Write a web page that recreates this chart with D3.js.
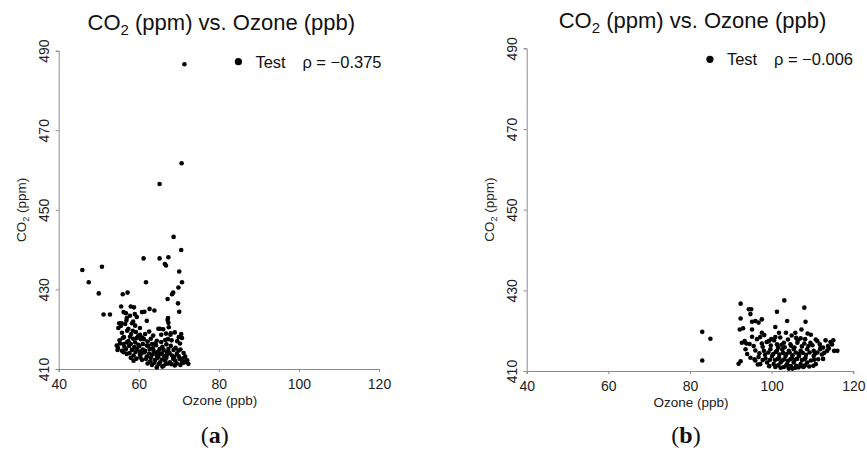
<!DOCTYPE html>
<html>
<head>
<meta charset="utf-8">
<script src="https://cdn.jsdelivr.net/npm/d3@7"></script>
<style>
  body { margin: 0; background: #fff; }
  svg { display: block; font-family: "Liberation Sans", Arial, sans-serif; }
</style>
</head>
<body>
<div id="chart"></div>
<script>
(function () {

// Data: panel (a)
const ozoneA = [71.4, 70.7, 65.2, 68.7, 70.6, 61.2, 65.2, 67.4, 66.8, 66.5, 45.9, 50.8, 70.1, 47.5, 61.8, 70.8, 69.9, 50, 56, 57.2,
  68.6, 68.3, 67.2, 69.8, 70.1, 51.2, 52.8, 55.6, 58, 58.8, 62.7, 63.9, 56.2, 56.8, 59, 60.8, 61.4, 57, 59.5, 67.2,
  55.1, 55.7, 56.6, 58.3, 59.1, 62, 67.4, 54.9, 57.4, 58.5, 64.9, 65.3, 62.6, 67.5, 68, 70.8, 56.3, 57.8, 59.5, 60.5,
  61.3, 64.5, 66.6, 67.3, 54.5, 55.3, 56.2, 57, 58, 59.1, 59.9, 61, 62, 63.3, 64.1, 70.3, 54.7, 55.8, 56.8, 58.3,
  59.5, 60.3, 61.6, 62.7, 63.7, 65.2, 66.2, 67.4, 68.7, 69.9, 57, 58.7, 60.3, 62, 63.3, 64.5, 65.8, 67, 68.3, 69.5,
  71.6, 58.7, 60.8, 62.8, 64.1, 65.3, 66.6, 67.8, 69.1, 70.8, 72.4, 64.5, 66.2,
  55.2, 56.0, 57.4, 58.6, 59.8, 60.9, 62.2, 63.0, 64.3, 65.6, 66.9, 68.2, 69.6, 70.6,
  54.8, 56.4, 57.6, 58.9, 60.1, 61.0, 62.4, 63.5, 64.8, 65.9, 67.0, 68.0, 69.2, 70.4, 71.2,
  56.2, 57.7, 59.2, 60.7, 61.4, 62.6, 63.8, 64.7, 65.5, 66.4, 67.7, 68.8, 70.0, 71.0,
  58.0, 59.4, 60.4, 61.8, 63.0, 63.9, 64.9, 65.8, 66.9, 67.4, 68.6, 69.5, 70.2, 71.8, 72.1,
  62.2, 63.3, 64.0, 65.0, 65.9, 66.8, 68.2, 69.0, 70.4, 71.2,
  55.8, 57.1, 58.1, 59.3, 60.3, 61.6, 63.6, 65.6, 66.8, 67.9, 69.0, 70.0,
  56.9, 58.6, 60.3, 66.1, 67.3, 57.8, 55.5];
const co2A = [486.6, 461.7, 456.5, 443.2, 439.9, 437.8, 437.8, 438.1, 436, 436.4, 434.9, 435.7, 434.5, 431.8, 431.8, 431.8, 430.5, 429, 428.8, 429.2,
  429.2, 428.8, 427.6, 426.5, 424.4, 423.7, 423.7, 425.7, 425.7, 425.5, 425.1, 424.7, 424.3, 424, 423.8, 424.3, 424.4, 422.8, 423.1, 422.3,
  421.5, 421.5, 421.3, 421.5, 420.9, 422.1, 421.6, 420.3, 420.1, 419.6, 420.1, 420.1, 419.4, 420.5, 419, 417.8, 418, 418.1, 417.8, 417.5,
  417.5, 417.1, 417.3, 417.5, 415.9, 416.4, 416.3, 416.7, 416.3, 416.7, 416.1, 416.3, 415.9, 416.3, 416.4, 416.4, 414.8, 414.6, 415, 414.8,
  415, 414.4, 414.6, 415, 414.6, 415, 414.8, 415, 414.8, 414.6, 413.8, 413.4, 413.6, 413.1, 413.6, 413.4, 413.8, 413.5, 413.4, 413.8,
  413.1, 412.1, 412.3, 411.9, 412.3, 411.7, 412.1, 411.7, 412.1, 411.7, 411.3, 410.4, 410.8,
  417.2, 417.8, 417.0, 417.6, 418.2, 417.9, 416.9, 417.6, 416.0, 416.8, 416.2, 417.2, 417.0, 418.8,
  415.3, 415.6, 415.8, 415.5, 415.7, 414.9, 415.8, 415.2, 414.3, 415.6, 414.2, 415.8, 415.3, 414.9, 414.0,
  414.2, 414.0, 414.3, 413.9, 414.2, 413.9, 414.0, 412.8, 413.9, 413.2, 414.0, 413.0, 413.2, 412.6,
  412.8, 412.6, 412.9, 412.5, 412.8, 411.6, 413.1, 412.4, 412.8, 411.4, 412.6, 411.4, 412.5, 411.8, 412.2,
  411.4, 411.0, 412.2, 411.2, 410.6, 411.3, 411.2, 410.9, 411.0, 411.6,
  419.1, 419.6, 418.8, 419.3, 418.6, 418.8, 418.4, 418.6, 418.9, 418.6, 419.2, 418.0,
  422.2, 421.9, 420.3, 420.0, 422.8, 423.4, 420.8];

// Data: panel (b)
const ozoneB = [83, 85, 83, 92.4, 103.1, 94.4, 95, 108, 101.3, 92.4, 94.8, 95.2, 96, 96.8, 97.6, 103.8, 108.3, 92.2, 93, 95.2,
  100.9, 107.3, 105.8, 97.6, 103.5, 100.9, 102.1, 99.9, 107.1, 92.7, 93.8, 95.6, 97.6, 99.3, 101.3, 103, 104.6, 106.3, 108, 109.5,
  111.2, 113.2, 115.1, 114.8, 115.3, 116.1, 93.6, 96, 98.1, 99.7, 101.3, 102.6, 104.2, 105.4, 107.1, 108.7, 110.3, 111.9, 113.6, 94.8,
  96.8, 98.5, 100.1, 101.8, 103.4, 105, 106.7, 108.3, 110.3, 112.3, 91.9, 97.2, 98.9, 100.5, 102.2, 103.8, 105.4, 107.1, 108.7, 110.8,
  102.2, 104.2, 105.8, 107.8,
  97.8, 98.8, 99.8, 100.6, 101.6, 102.4, 103.2, 104.0, 104.8, 105.6, 106.4, 107.4, 108.2, 109.0, 110.0, 110.8, 111.8, 112.6, 113.8, 114.4,
  97.0, 98.4, 99.2, 100.4, 101.0, 101.9, 102.8, 103.6, 104.4, 105.1, 105.9, 106.6, 107.6, 108.4, 109.3, 110.6, 111.2, 112.0, 112.9, 114.0,
  96.0, 97.8, 99.6, 100.8, 101.5, 102.6, 103.1, 104.0, 104.6, 105.6, 106.2, 107.4, 108.0, 109.6, 110.4, 111.4, 112.6,
  99.4, 100.9, 101.6, 103.0, 103.6, 104.7, 105.1, 106.0, 106.6, 107.4, 108.2, 109.2, 110.2,
  93.4, 94.6, 95.2, 96.4, 97.2, 98.2, 101.8, 104.9, 106.0, 108.8, 109.6, 92.4, 95.8, 96.6, 94.0];
const co2B = [419.7, 418, 412.6, 426.7, 427.5, 425.3, 425.3, 425.7, 424.7, 423, 424.1, 422.2, 422.4, 422, 422.8, 422.4, 422.2, 420.3, 420.6, 420.3,
  420.9, 420.3, 419.5, 419.5, 419.5, 418.4, 418.3, 417.9, 418.1, 417, 416.8, 416.2, 416.8, 417.4, 416.6, 417, 416.6, 417, 416.8, 417,
  417.4, 417.6, 417.6, 416.6, 415, 415, 415.4, 415.1, 415, 415.4, 415, 415.4, 415, 415.4, 415, 415.4, 415, 415.4, 415, 413.3,
  413.5, 413.1, 413.7, 413.3, 413.7, 413.3, 413.7, 413.3, 413.7, 414.1, 411.8, 411.7, 412.1, 411.7, 412.1, 411.7, 412.1, 411.7, 412.1, 411.7,
  410.8, 410.6, 410.8, 411,
  416.0, 417.2, 416.3, 417.6, 415.8, 416.5, 415.9, 417.8, 416.2, 415.8, 417.6, 416.1, 417.9, 416.2, 416.4, 417.8, 416.6, 415.8, 416.2, 417.2,
  414.4, 414.0, 414.6, 414.2, 414.7, 414.1, 414.5, 414.2, 414.6, 413.9, 414.6, 414.2, 414.5, 414.0, 414.6, 414.3, 414.6, 415.8, 414.5, 415.6,
  412.6, 412.7, 412.8, 412.7, 413.0, 412.6, 412.9, 412.5, 412.9, 412.7, 413.0, 412.7, 412.9, 412.6, 412.8, 412.9, 413.0,
  411.2, 411.0, 411.4, 411.0, 411.4, 411.2, 410.6, 411.3, 410.9, 411.2, 411.4, 411.1, 411.3,
  417.4, 416.7, 418.5, 417.9, 418.4, 418.9, 419.5, 418.8, 418.2, 419.3, 419.0, 412.4, 412.9, 411.6, 414.2];

const xTicks = [40, 60, 80, 100, 120];
const yTicks = [410, 430, 450, 470, 490];
const rhoValues = ["\u22120.375", "\u22120.006"];
const panelLetters = ["a", "b"];

const width = 867, height = 452;

const svg = d3.select("#chart").append("svg")
    .attr("width", width)
    .attr("height", height);

// Plot boxes (left, right, top, bottom) for each panel
const boxes = [
    { x0: 58.7, x1: 379, y0: 50.7, y1: 369 },
    { x0: 526.7, x1: 853.3, y0: 48.3, y1: 371 }
];

function drawPanel(box, ozone, co2, rho, letter) {
    const x = d3.scaleLinear().domain([40, 120]).range([box.x0, box.x1]);
    const y = d3.scaleLinear().domain([410, 490]).range([box.y1, box.y0]);
    const cx = (box.x0 + box.x1) / 2;

    // Axes
    const xAxis = svg.append("g")
        .attr("transform", `translate(0, ${box.y1})`)
        .call(d3.axisBottom(x).tickValues(xTicks).tickSize(3));
    xAxis.select(".domain").attr("stroke", "#8c8c8c");
    xAxis.selectAll(".tick line").attr("stroke", "#8c8c8c");
    xAxis.selectAll("text")
        .attr("y", 10)
        .attr("fill", "#222")
        .style("font-size", "14px")
        .style("font-family", "Liberation Sans, Arial, sans-serif");

    const yAxis = svg.append("g")
        .attr("transform", `translate(${box.x0}, 0)`)
        .call(d3.axisLeft(y).tickValues(yTicks).tickSize(3));
    yAxis.select(".domain").attr("stroke", "#8c8c8c");
    yAxis.selectAll(".tick line").attr("stroke", "#8c8c8c");
    yAxis.selectAll("text")
        .attr("transform", "rotate(-90)")
        .attr("x", 0)
        .attr("y", -10)
        .attr("dy", 0)
        .attr("fill", "#222")
        .style("text-anchor", "middle")
        .style("font-size", "14px")
        .style("font-family", "Liberation Sans, Arial, sans-serif");

    // Points
    svg.append("g")
        .selectAll("circle")
        .data(d3.zip(ozone, co2))
        .enter()
        .append("circle")
        .attr("cx", d => x(d[0]))
        .attr("cy", d => y(d[1]))
        .attr("r", 2.3)
        .attr("fill", "#000");

    // Title
    const title = svg.append("text")
        .attr("x", cx + 2.5)
        .attr("y", box.y0 - 20.5)
        .attr("text-anchor", "middle")
        .style("font-size", "22px")
        .attr("fill", "#111");
    title.append("tspan").text("CO");
    title.append("tspan").attr("dy", 5).style("font-size", "15px").text("2");
    title.append("tspan").attr("dy", -5).text(" (ppm) vs. Ozone (ppb)");

    // Y label
    const yLabel = svg.append("text")
        .attr("transform", `translate(${box.x0 - 33}, ${(box.y0 + box.y1) / 2}) rotate(-90)`)
        .attr("text-anchor", "middle")
        .style("font-size", "13.5px")
        .attr("fill", "#222");
    yLabel.append("tspan").text("CO");
    yLabel.append("tspan").attr("dy", 3).style("font-size", "9px").text("2");
    yLabel.append("tspan").attr("dy", -3).text(" (ppm)");

    // X label
    svg.append("text")
        .attr("x", cx + 1)
        .attr("y", box.y1 + 36)
        .attr("text-anchor", "middle")
        .style("font-size", "13.5px")
        .attr("fill", "#222")
        .text("Ozone (ppb)");

    // Legend
    const lx = box.x0 + (box.x1 - box.x0) * 0.561;
    const ly = box.y0 + 11;
    svg.append("circle").attr("cx", lx).attr("cy", ly).attr("r", 3.6).attr("fill", "#000");
    svg.append("text")
        .attr("x", lx + 17).attr("y", ly + 6)
        .style("font-size", "16.5px").attr("fill", "#111")
        .text("Test");
    svg.append("text")
        .attr("x", lx + 64).attr("y", ly + 6)
        .style("font-size", "16.5px").attr("fill", "#111")
        .text("\u03c1 = " + rho);

    // Panel letter
    const pl = svg.append("text")
        .attr("x", cx - 4)
        .attr("y", 443)
        .attr("text-anchor", "middle")
        .style("font-family", "Liberation Serif, 'Times New Roman', serif")
        .style("font-size", "24px")
        .attr("fill", "#111");
    pl.append("tspan").text("(");
    pl.append("tspan").style("font-weight", "bold").text(letter);
    pl.append("tspan").text(")");
}

boxes.forEach((b, i) => {
    drawPanel(b, i === 0 ? ozoneA : ozoneB, i === 0 ? co2A : co2B, rhoValues[i], panelLetters[i]);
});

})();
</script>
</body>
</html>
